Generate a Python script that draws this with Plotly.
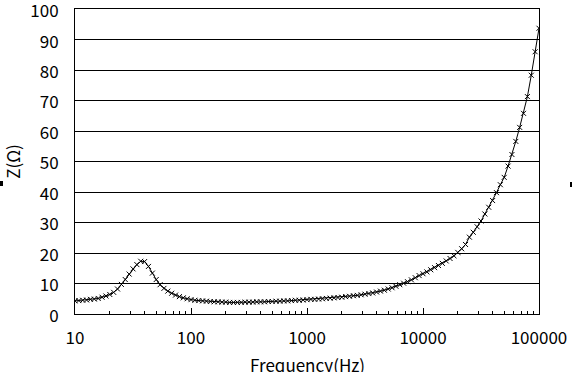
import plotly.graph_objects as go

# Frequency sweep (Hz), 30 points per decade
freq_hz = [
    10, 10.8, 11.66, 12.59, 13.59, 14.68, 15.85, 17.11, 18.48, 19.95,
    21.54, 23.26, 25.12, 27.12, 29.29, 31.62, 34.15, 36.87, 39.81, 42.99,
    46.42, 50.12, 54.12, 58.43, 63.10, 68.13, 73.56, 79.43, 85.77, 92.61,
    100, 108, 116.6, 125.9, 135.9, 146.8, 158.5, 171.1, 184.8, 199.5,
    215.4, 232.6, 251.2, 271.2, 292.9, 316.2, 341.5, 368.7, 398.1, 429.9,
    464.2, 501.2, 541.2, 584.3, 631.0, 681.3, 735.6, 794.3, 857.7, 926.1,
    1000, 1080, 1166, 1259, 1359, 1468, 1585, 1711, 1848, 1995,
    2154, 2326, 2512, 2712, 2929, 3162, 3415, 3687, 3981, 4299,
    4642, 5012, 5412, 5843, 6310, 6813, 7356, 7943, 8577, 9261,
    10000, 10800, 11660, 12590, 13590, 14680, 15850, 17110, 18480, 19950,
    21540, 23260, 25120, 27120, 29290, 31620, 34150, 36870, 39810, 42990,
    46420, 50120, 54120, 58430, 63100, 68130, 73560, 79430, 85770, 92610,
    100000,
]

# Impedance |Z| (ohm)
z_ohm = [
    4.3, 4.4, 4.5, 4.6, 4.8, 4.9, 5.1, 5.5, 5.9, 6.4,
    7.1, 8.2, 9.7, 11.3, 13.1, 14.8, 16.2, 17.3, 17.2, 15.6,
    13.4, 11.3, 9.6, 8.4, 7.5, 6.8, 6.2, 5.7, 5.3, 5.0,
    4.7, 4.5, 4.4, 4.3, 4.2, 4.1, 4.0, 4.0, 3.9, 3.9,
    3.8, 3.8, 3.8, 3.8, 3.9, 3.9, 3.9, 4.0, 4.0, 4.0,
    4.1, 4.1, 4.2, 4.2, 4.3, 4.3, 4.4, 4.5, 4.5, 4.6,
    4.7, 4.8, 4.8, 4.9, 5.0, 5.1, 5.2, 5.3, 5.4, 5.5,
    5.7, 5.8, 6.0, 6.1, 6.3, 6.5, 6.7, 6.9, 7.2, 7.5,
    7.8, 8.2, 8.6, 9.1, 9.6, 10.1, 10.6, 11.2, 11.9, 12.6,
    13.2, 13.8, 14.5, 15.2, 15.9, 16.6, 17.4, 18.2, 19.1, 20.2,
    21.4, 22.8, 25.2, 26.8, 28.6, 30.5, 32.8, 35.0, 37.2, 39.8,
    42.4, 44.8, 48.5, 52.3, 56.6, 61.2, 65.8, 71.3, 78.3, 86.0,
    93.7,
]

x_tickvals = [10, 100, 1000, 10000, 100000]
x_ticktext = ["10", "100", "1000", "10000", "100000"]
y_tickvals = [0, 10, 20, 30, 40, 50, 60, 70, 80, 90, 100]

FONT = "Noto Sans CJK JP"
FS = 17
L, R, T, B = 75, 539, 9, 314  # plot area edges in pixels
PW, PH = R - L, B - T

fig = go.Figure()
fig.add_trace(go.Scatter(
    x=freq_hz, y=z_ohm,
    mode="lines+markers",
    line=dict(color="black", width=1),
    marker=dict(symbol="x-thin-open", size=5, color="black",
                line=dict(color="black", width=1)),
    showlegend=False,
))

fig.update_layout(
    width=572, height=372,
    margin=dict(l=L, r=572 - R, t=T, b=372 - B),
    paper_bgcolor="white", plot_bgcolor="white",
    font=dict(family=FONT, size=FS, color="black"),
    xaxis=dict(
        type="log", range=[1, 5],
        tickvals=x_tickvals, ticktext=x_ticktext,
        ticks="inside", ticklen=6, tickcolor="black", tickwidth=1,
        minor=dict(ticks="inside", ticklen=3, tickcolor="black",
                   dtick="D1", showgrid=False),
        showline=True, linecolor="black", linewidth=1, mirror=True,
        showgrid=False, zeroline=False,
        ticklabelstandoff=9,
        ticklabeloverflow="allow",
        automargin=False,
    ),
    yaxis=dict(
        range=[0, 100.02], tickvals=y_tickvals,
        ticks="", showline=True, linecolor="black", linewidth=1,
        mirror=True, showgrid=True, gridcolor="black", gridwidth=1,
        zeroline=False,
        ticklabelstandoff=12,
        ticklabelshift=2,
        ticklabeloverflow="allow",
        title=dict(text="Z(Ω)", font=dict(size=FS), standoff=14),
        automargin=False,
    ),
    annotations=[
        dict(text="Frequency(Hz)", xref="paper", yref="paper",
             x=0.5, y=(B - 364) / PH, xanchor="center", yanchor="middle",
             showarrow=False, font=dict(size=FS)),
    ],
    shapes=[
        dict(type="rect", xref="paper", yref="paper",
             x0=(0 - L) / PW, x1=(3 - L) / PW,
             y0=(B - 186) / PH, y1=(B - 181) / PH,
             fillcolor="black", line=dict(width=0)),
        dict(type="rect", xref="paper", yref="paper",
             x0=(570 - L) / PW, x1=(572 - L) / PW,
             y0=(B - 187) / PH, y1=(B - 182) / PH,
             fillcolor="black", line=dict(width=0)),
    ],
)

fig.write_html(
    "out.html",
    config={"displayModeBar": False},
    post_script="document.body.style.margin='0';document.body.style.overflow='hidden';",
)
